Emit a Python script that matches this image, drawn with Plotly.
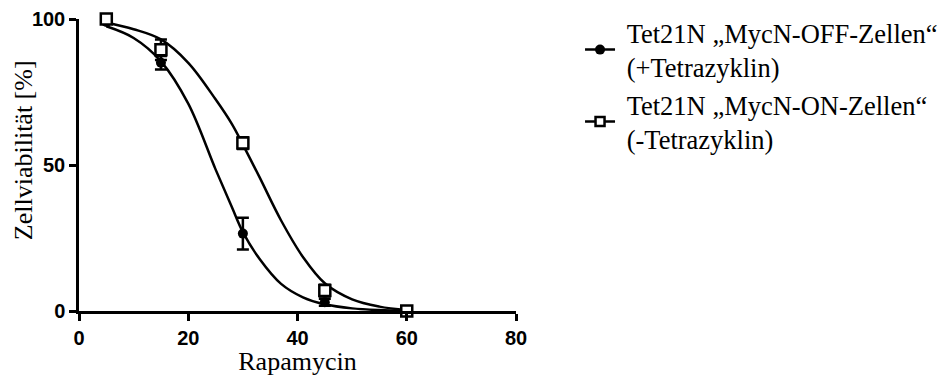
import plotly.graph_objects as go

# measured data points
dose = [5, 15, 30, 45, 60]
off_mean = [99, 85, 26.5, 3, 0]
off_err = [0, 2.3, 5.4, 1.2, 0]
on_mean = [100, 89.5, 57.5, 7, 0]
on_err = [0, 3.5, 2, 2, 0]

# fitted curves
curve_x = [5, 10, 15, 20, 25, 28, 30, 33, 37, 41, 45, 50, 55, 60]
off_curve = [97.5, 93.5, 85.5, 71, 48.5, 35.5, 27, 18, 9.3, 4.7, 2.3, 0.9, 0.3, 0.05]
on_curve = [98.8, 96.5, 93, 85, 72.5, 64, 57, 46, 31, 18.5, 9.5, 4, 1.5, 0.3]

labels = ["\u00a0Tet21N „MycN-OFF-Zellen“<br>\u00a0(+Tetrazyklin)",
          "\u00a0Tet21N „MycN-ON-Zellen“<br>\u00a0(-Tetrazyklin)"]
x_title = "Rapamycin"
y_title = "Zellviabilität [%]"

BLACK = "#000000"
SERIF = "Times New Roman, Liberation Serif, DejaVu Serif, serif"
fig = go.Figure()

for cy in (off_curve, on_curve):
    fig.add_trace(go.Scatter(x=curve_x, y=cy, mode="lines", line=dict(color=BLACK, width=2.5, shape="spline"),
                             showlegend=False, cliponaxis=False, hoverinfo="skip"))

fig.add_trace(go.Scatter(x=dose, y=off_mean, mode="markers",
                         marker=dict(symbol="circle", size=10, color=BLACK),
                         error_y=dict(type="data", array=off_err, color=BLACK, thickness=2.5, width=6),
                         showlegend=False, cliponaxis=False))
fig.add_trace(go.Scatter(x=dose, y=on_mean, mode="markers",
                         marker=dict(symbol="square", size=11, color="white", line=dict(color=BLACK, width=2.5)),
                         error_y=dict(type="data", array=on_err, color=BLACK, thickness=2.5, width=6),
                         showlegend=False, cliponaxis=False))

# legend entries
fig.add_trace(go.Scatter(x=[None], y=[None], mode="lines+markers", name=labels[0],
                         line=dict(color=BLACK, width=2.5),
                         marker=dict(symbol="circle", size=10, color=BLACK)))
fig.add_trace(go.Scatter(x=[None], y=[None], mode="lines+markers", name=labels[1],
                         line=dict(color=BLACK, width=2.5),
                         marker=dict(symbol="square", size=9, color="white", line=dict(color=BLACK, width=2.5))))

tickfont = dict(family="Arial, Liberation Sans, sans-serif", size=20, color=BLACK, weight=700)
titlefont = dict(family=SERIF, size=26, color=BLACK)

fig.update_layout(
    width=947, height=376,
    margin=dict(l=79, r=431, t=19, b=65),
    paper_bgcolor="white", plot_bgcolor="white",
    font=dict(family=SERIF, color=BLACK),
    showlegend=True,
    legend=dict(xref="container", yref="container", x=0.6125, xanchor="left", y=0.977, yanchor="top",
                font=dict(family=SERIF, size=26.5, color=BLACK),
                bgcolor="rgba(0,0,0,0)", tracegroupgap=0, itemwidth=30),
    xaxis=dict(range=[0, 80], tickvals=[0, 20, 40, 60, 80], showgrid=False, zeroline=False,
               showline=True, linecolor=BLACK, linewidth=2.5, ticks="outside", ticklen=7,
               tickwidth=2.5, tickcolor=BLACK, tickfont=tickfont, automargin=False,
               title=dict(text=x_title, font=titlefont, standoff=2)),
    yaxis=dict(range=[0, 100], tickvals=[0, 50, 100], showgrid=False, zeroline=False,
               showline=True, linecolor=BLACK, linewidth=2.5, ticks="outside", ticklen=7,
               tickwidth=2.5, tickcolor=BLACK, tickfont=tickfont, automargin=False),
    annotations=[dict(text=y_title, xref="paper", yref="paper", x=-0.128, y=0.551,
                      xanchor="center", yanchor="middle", textangle=-90, showarrow=False,
                      font=titlefont)],
)

fig.write_html("out.html")
